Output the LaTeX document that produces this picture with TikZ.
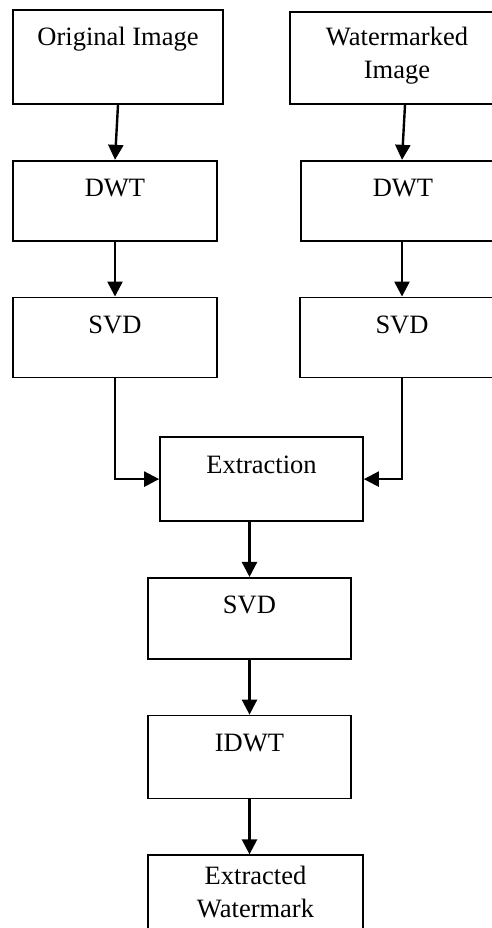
\documentclass[tikz,border=0pt]{standalone}
\usepackage{fontspec}
\setmainfont{Liberation Serif}
\usepackage{tikz}
\usetikzlibrary{arrows.meta,positioning}
\newfontfamily\procfont{Liberation Serif}
\tikzset{
 procbox/.style={
 rectangle,
 draw=black,
 line width=1.7pt,
 inner sep=0pt,
 align=center,
 text height=36pt,
 font=\procfont\fontsize{26.5}{33}\selectfont
 },
 procarrow/.style={-{Triangle[length=15pt,width=15pt]}, line width=2.4pt, draw=black}
}

\begin{document}
\begin{tikzpicture}[x=1pt, y=1pt, node distance=55pt and 40pt]
	\useasboundingbox (0,0) rectangle (492,-928);
	% left column
	\node[procbox, minimum width=210pt, text depth=58pt] (orig) at (118,-57) {Original Image};
	\node[procbox, minimum width=204pt, text depth=44pt, below=of orig, xshift=-3pt] (dwtL) {DWT};
	\node[procbox, minimum width=204pt, text depth=44pt, below=of dwtL] (svdL) {SVD};

	% right column
	\node[procbox, minimum width=214pt, text depth=25pt, text height=67pt] (wm) at (397,-58) {Watermarked\\Image};
	\node[procbox, minimum width=204pt, text depth=44pt, below=of wm, xshift=6pt] (dwtR) {DWT};
	\node[procbox, minimum width=204pt, text depth=44pt, below=of dwtR, xshift=-1pt] (svdR) {SVD};

	% merged part
	\node[procbox, minimum width=203pt, text depth=48pt, below=of svdL, xshift=146.5pt, yshift=-3pt] (ext) {Extraction};
	\node[procbox, minimum width=203pt, text depth=45pt, below=of ext, xshift=-12pt] (svd) {SVD};
	\node[procbox, minimum width=203pt, text depth=47pt, below=of svd] (idwt) {IDWT};
	\node[procbox, minimum width=215pt, text depth=30pt, text height=62pt, below=of idwt, xshift=6pt] (extw) {Extracted\\Watermark};

	\draw[procarrow] (orig.south) -- (dwtL.north);
	\draw[procarrow] ([xshift=8pt]wm.south) -- ([xshift=-1pt]dwtR.north);
	\draw[procarrow] (dwtL) -- (svdL);
	\draw[procarrow] (dwtR.south -| svdR.north) -- (svdR.north);

	\draw[procarrow] (svdL.south) |- (ext.west);
	\draw[procarrow] (svdR.south) |- (ext.east);

	\draw[procarrow] (ext.south -| svd.north) -- (svd.north);
	\draw[procarrow] (svd) -- (idwt);
	\draw[procarrow] (idwt.south) -- (idwt.south |- extw.north);
\end{tikzpicture}
\end{document}
